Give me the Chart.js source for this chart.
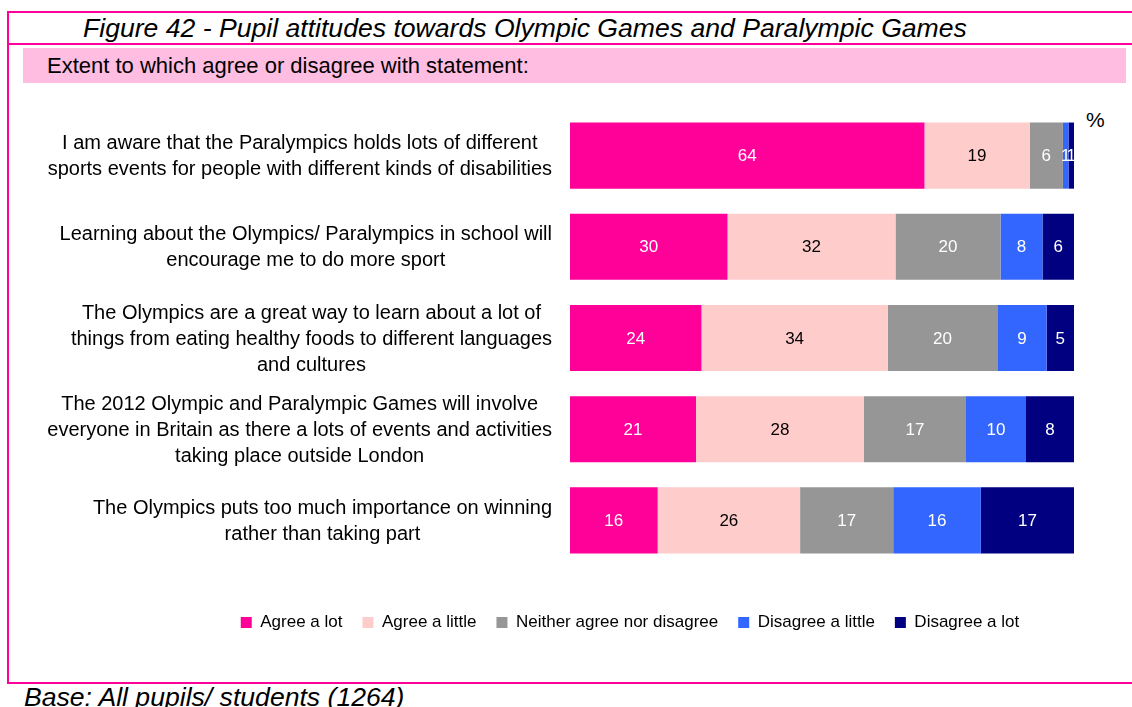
<!DOCTYPE html>
<html>
<head>
<meta charset="utf-8">
<script src="https://cdn.jsdelivr.net/npm/chart.js@4.4.0/dist/chart.umd.min.js"></script>
<style>
  body { margin: 0; background: #fff; font-family: 'Liberation Sans', Arial, sans-serif; }
  #page { position: relative; width: 1132px; height: 707px; overflow: hidden; }
  #frame { position: absolute; left: 7px; top: 11px; width: 1140px; height: 669px; border: 2px solid #ff0099; border-right: none; }
  #rule { position: absolute; left: 7px; top: 43px; width: 1140px; height: 2px; background: #ff0099; }
  #title { position: absolute; left: 83px; top: 13px; font-size: 26.6px; font-style: italic; line-height: 30px; white-space: nowrap; }
  #band { position: absolute; left: 23px; top: 48px; width: 1103px; height: 35px; background: #ffbde1; }
  #sub { position: absolute; left: 47px; top: 53px; font-size: 22px; line-height: 25px; white-space: nowrap; }
  #pct { position: absolute; left: 1086px; top: 108px; font-size: 21px; line-height: 24px; }
  #base { position: absolute; left: 24px; top: 682px; font-size: 26.6px; font-style: italic; line-height: 30px; white-space: nowrap; }
  #wrap { position: absolute; left: 0; top: 0; width: 1132px; height: 707px; }
</style>
</head>
<body>
<div id="page">
  <div id="frame"></div>
  <div id="rule"></div>
  <div id="title">Figure 42 - Pupil attitudes towards Olympic Games and Paralympic Games</div>
  <div id="band"></div>
  <div id="sub">Extent to which agree or disagree with statement:</div>
  <div id="pct">%</div>
  <div id="base">Base: All pupils/ students (1264)</div>
  <div id="wrap"><canvas id="myChart"></canvas></div>
</div>
<script>
// Datos de la grafica
const statements = [
  ['I am aware that the Paralympics holds lots of different', 'sports events for people with different kinds of disabilities'],
  ['Learning about the Olympics/ Paralympics in school will', 'encourage me to do more sport'],
  ['The Olympics are a great way to learn about a lot of', 'things from eating healthy foods to different languages', 'and cultures'],
  ['The 2012 Olympic and Paralympic Games will involve', 'everyone in Britain as there a lots of events and activities', 'taking place outside London'],
  ['The Olympics puts too much importance on winning', 'rather than taking part']
];
const seriesNames = ['Agree a lot', 'Agree a little', 'Neither agree nor disagree', 'Disagree a little', 'Disagree a lot'];
const agreeLot = [64, 30, 24, 21, 16];
const agreeLittle = [19, 32, 34, 28, 26];
const neither = [6, 20, 20, 17, 17];
const disagreeLittle = [1, 8, 9, 10, 16];
const disagreeLot = [1, 6, 5, 8, 17];

const colores = ['#ff0099', '#ffcccc', '#969696', '#3366ff', '#000080'];
const colorTexto = ['#fff', '#000', '#fff', '#fff', '#fff'];
const fuente = "'Liberation Sans', Arial, sans-serif";

const series = [agreeLot, agreeLittle, neither, disagreeLittle, disagreeLot];
// cada barra suma 100 (como en la grafica original)
const totales = statements.map((s, i) => series.reduce((sum, arr) => sum + arr[i], 0));

const datasets = series.map((arr, k) => ({
  label: seriesNames[k],
  backgroundColor: colores[k],
  borderWidth: 0,
  data: arr.map((v, i) => v / totales[i] * 100),
  raw: arr,
  categoryPercentage: 1,
  barPercentage: 0.725,
}));

// etiquetas de valores dentro de cada segmento
const valores = {
  id: 'valores',
  afterDatasetsDraw(chart) {
    const ctx = chart.ctx;
    ctx.save();
    ctx.font = '17px ' + fuente;
    ctx.textAlign = 'center';
    ctx.textBaseline = 'middle';
    chart.data.datasets.forEach((ds, k) => {
      const meta = chart.getDatasetMeta(k);
      ctx.fillStyle = colorTexto[k];
      meta.data.forEach((bar, i) => {
        ctx.fillText(String(ds.raw[i]), (bar.x + bar.base) / 2, bar.y + 1);
      });
    });
    ctx.restore();
  }
};

// textos de las categorias, centrados por bloque y alineados a la derecha
const categorias = {
  id: 'categorias',
  afterDraw(chart) {
    const ctx = chart.ctx;
    const scale = chart.scales.y;
    const lh = 26;
    ctx.save();
    ctx.font = '20px ' + fuente;
    ctx.fillStyle = '#000';
    ctx.textAlign = 'center';
    ctx.textBaseline = 'middle';
    statements.forEach((lines, i) => {
      const y = scale.getPixelForTick(i);
      const ancho = Math.max(...lines.map((l) => ctx.measureText(l).width));
      const cx = chart.chartArea.left - 18 - ancho / 2;
      lines.forEach((l, n) => {
        ctx.fillText(l, cx, y + 1 + (n - (lines.length - 1) / 2) * lh);
      });
    });
    ctx.restore();
  }
};

const config = {
  type: 'bar',
  data: { labels: statements.map((s) => s[0]), datasets: datasets },
  options: {
    indexAxis: 'y',
    responsive: true,
    maintainAspectRatio: false,
    animation: false,
    layout: { padding: { top: 110, bottom: 66, left: 186, right: 58 } },
    scales: {
      x: {
        stacked: true,
        min: 0,
        max: 100,
        grid: { display: false },
        border: { display: false },
        ticks: { display: false },
        afterFit: (s) => { s.height = 28; },
      },
      y: {
        stacked: true,
        grid: { display: false },
        border: { display: false },
        ticks: { display: false },
        afterFit: (s) => { s.width = 384; },
      },
    },
    plugins: {
      tooltip: { enabled: false },
      legend: {
        position: 'bottom',
        labels: {
          boxWidth: 11,
          boxHeight: 11,
          padding: 20,
          color: '#000',
          font: { family: fuente, size: 17 },
        },
      },
    },
  },
  plugins: [valores, categorias],
};

let myChart = new Chart(document.querySelector('#myChart'), config);
</script>
</body>
</html>
